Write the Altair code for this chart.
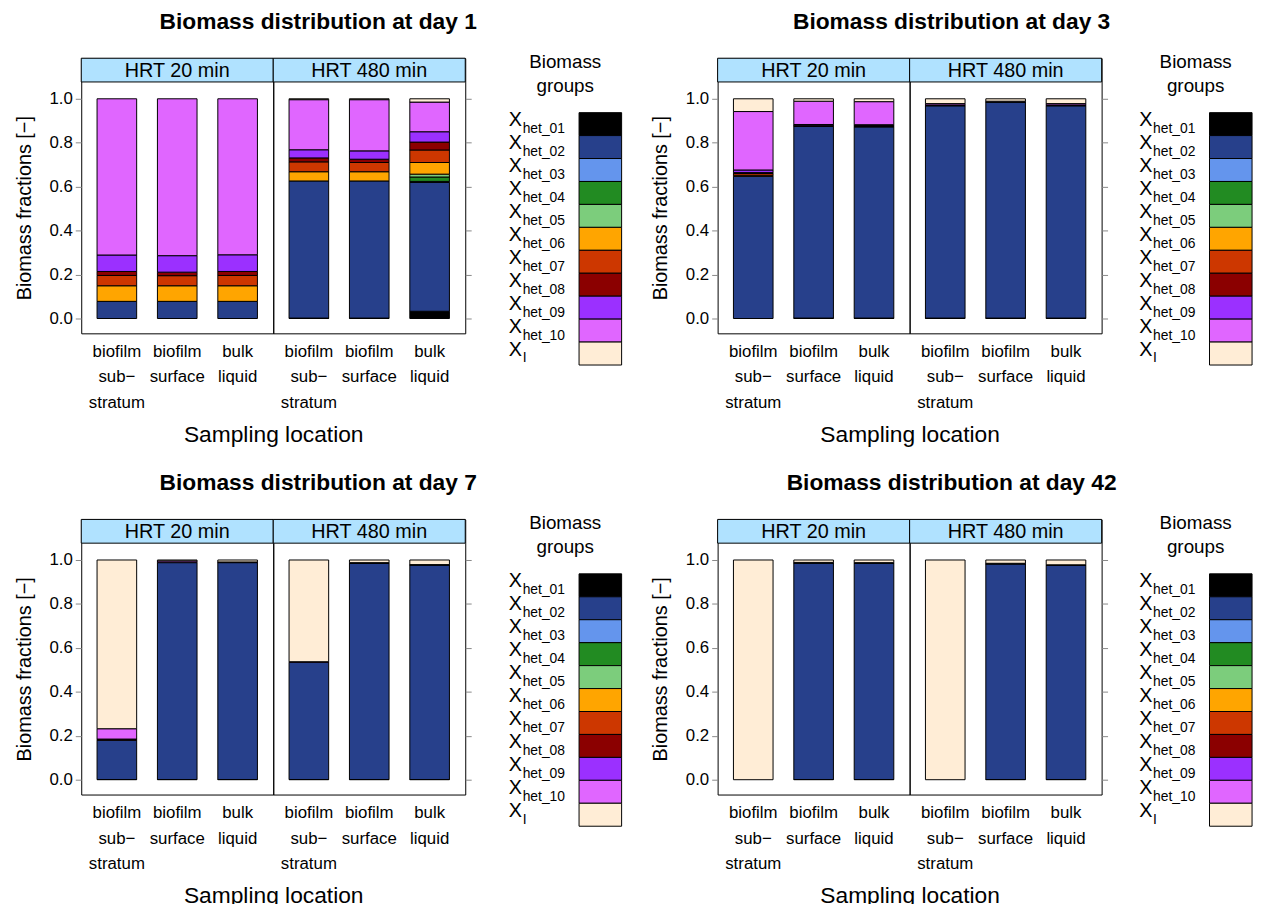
import altair as alt
import pandas as pd

FONT = "Liberation Sans"

GROUPS = ["het_01", "het_02", "het_03", "het_04", "het_05", "het_06",
          "het_07", "het_08", "het_09", "het_10", "I"]
GROUP_COLORS = ["#000000", "#27408B", "#6495ED", "#228B22", "#7CCD7C", "#FFA500",
                "#CD3700", "#8B0000", "#9B30FF", "#E066FF", "#FFEDD6"]
LOCATIONS = ["biofilm|sub\u2212|stratum", "biofilm|surface", "bulk|liquid"]
HRTS = ["HRT 20 min", "HRT 480 min"]
Y_TICKS = [0.0, 0.2, 0.4, 0.6, 0.8, 1.0]
LEGEND_TITLE = ["Biomass", "groups"]

# fractions per sampling location, order = GROUPS (het_01 ... het_10, X_I)
D1_20_SUB = [0, 0.078, 0, 0, 0, 0.071, 0.047, 0.018, 0.075, 0.711, 0]
D1_20_SUR = [0, 0.078, 0, 0, 0, 0.071, 0.046, 0.016, 0.075, 0.714, 0]
D1_20_BULK = [0, 0.078, 0, 0, 0, 0.071, 0.047, 0.018, 0.076, 0.710, 0]
D1_480_SUB = [0.002, 0.624, 0, 0, 0, 0.042, 0.045, 0.018, 0.037, 0.228, 0.004]
D1_480_SUR = [0.002, 0.624, 0, 0, 0, 0.042, 0.042, 0.015, 0.038, 0.233, 0.004]
D1_480_BULK = [0.033, 0.586, 0.005, 0.020, 0.013, 0.053, 0.057, 0.036, 0.047, 0.135, 0.015]

D3_20_SUB = [0, 0.647, 0, 0, 0, 0.005, 0.008, 0.004, 0.012, 0.266, 0.058]
D3_20_SUR = [0.002, 0.872, 0, 0, 0, 0.002, 0.002, 0.002, 0.003, 0.106, 0.011]
D3_20_BULK = [0.002, 0.870, 0, 0, 0, 0.002, 0.002, 0.002, 0.004, 0.105, 0.013]
D3_480_SUB = [0.002, 0.966, 0, 0, 0, 0, 0, 0.002, 0.002, 0.006, 0.022]
D3_480_SUR = [0.002, 0.983, 0, 0, 0, 0, 0, 0, 0.001, 0.003, 0.011]
D3_480_BULK = [0.002, 0.966, 0, 0, 0, 0, 0, 0.002, 0.002, 0.006, 0.022]

D7_20_SUB = [0.001, 0.179, 0, 0, 0, 0, 0, 0.002, 0.003, 0.047, 0.768]
D7_20_SUR = [0.001, 0.987, 0, 0, 0, 0, 0, 0, 0.002, 0.006, 0.004]
D7_20_BULK = [0.001, 0.987, 0, 0, 0, 0, 0, 0, 0.001, 0.002, 0.009]
D7_480_SUB = [0.001, 0.533, 0, 0, 0, 0, 0, 0, 0.001, 0.002, 0.463]
D7_480_SUR = [0.001, 0.984, 0, 0, 0, 0, 0, 0, 0.001, 0.002, 0.012]
D7_480_BULK = [0.001, 0.976, 0, 0, 0, 0, 0, 0, 0.001, 0.001, 0.021]

D42_20_SUB = [0, 0, 0, 0, 0, 0, 0, 0, 0, 0, 1.0]
D42_20_SUR = [0.001, 0.985, 0, 0, 0, 0, 0, 0, 0.001, 0.002, 0.011]
D42_20_BULK = [0.001, 0.985, 0, 0, 0, 0, 0, 0, 0.001, 0.001, 0.012]
D42_480_SUB = [0, 0, 0, 0, 0, 0, 0, 0, 0, 0, 1.0]
D42_480_SUR = [0.001, 0.981, 0, 0, 0, 0, 0, 0, 0.001, 0.002, 0.015]
D42_480_BULK = [0.001, 0.975, 0, 0, 0, 0, 0, 0, 0.001, 0.001, 0.022]

PANELS = [
    (1, [D1_20_SUB, D1_20_SUR, D1_20_BULK], [D1_480_SUB, D1_480_SUR, D1_480_BULK]),
    (3, [D3_20_SUB, D3_20_SUR, D3_20_BULK], [D3_480_SUB, D3_480_SUR, D3_480_BULK]),
    (7, [D7_20_SUB, D7_20_SUR, D7_20_BULK], [D7_480_SUB, D7_480_SUR, D7_480_BULK]),
    (42, [D42_20_SUB, D42_20_SUR, D42_20_BULK], [D42_480_SUB, D42_480_SUR, D42_480_BULK]),
]

# layout (pixels)
FW = 194          # width of one facet
FH = 278          # height incl. strip
STRIP = 24
Y_MIN = -15 / 222
Y_MAX = 1 + 41 / 222
STRIP_COLOR = "#B0E2FF"
LW = 118          # legend width
LH = 310          # legend height (incl. its title)

color_scale = alt.Scale(domain=GROUPS, range=GROUP_COLORS)


def fractions_frame(bars):
    rows = []
    for loc, vals in zip(LOCATIONS, bars):
        for i, (g, v) in enumerate(zip(GROUPS, vals)):
            if v > 0:
                rows.append({"location": loc, "group": g, "order": i, "value": v})
    return pd.DataFrame(rows)


def facet(hrt, bars, left):
    df = fractions_frame(bars)
    xkw = dict(labelExpr="split(datum.label, '|')", labelFontSize=17, labelLineHeight=26,
               labelPadding=10, tickSize=0, domain=False, labelAngle=0, labelBaseline="top")
    if left:
        xkw.update(title="Sampling location", titleFontSize=23, titleFontWeight="normal",
                   titleX=FW, titleAlign="center", titlePadding=13)
        ykw = dict(values=Y_TICKS, format=".1f", orient="left", tickSize=6, labelFontSize=17,
                   labelPadding=3, domain=False, grid=False, title="Biomass fractions  [\u2212]",
                   titleFontSize=20, titleFontWeight="normal", titlePadding=15, titleY=151)
    else:
        xkw.update(title="")
        ykw = dict(values=Y_TICKS, orient="right", tickSize=6, labels=False, domain=False,
                   grid=False, title="")
    bars_ch = alt.Chart(df).mark_bar(stroke="black", strokeWidth=1).encode(
        x=alt.X("location:N", sort=LOCATIONS,
                scale=alt.Scale(domain=LOCATIONS, paddingInner=0.344, paddingOuter=0.262),
                axis=alt.Axis(**xkw)),
        y=alt.Y("value:Q", stack="zero",
                scale=alt.Scale(domain=[Y_MIN, Y_MAX], nice=False, zero=False),
                axis=alt.Axis(**ykw)),
        color=alt.Color("group:N", scale=color_scale, legend=None),
        order=alt.Order("order:Q", sort="ascending"),
    )
    sdf = pd.DataFrame({"label": [hrt]})
    strip_rect = alt.Chart(sdf).mark_rect(fill=STRIP_COLOR, stroke="black", strokeWidth=1).encode(
        x=alt.value(0), x2=alt.value(FW), y=alt.value(0), y2=alt.value(STRIP))
    strip_text = alt.Chart(sdf).mark_text(fontSize=20, baseline="middle", align="center").encode(
        x=alt.value(FW / 2), y=alt.value(STRIP / 2 + 1), text="label:N")
    return alt.layer(bars_ch, strip_rect, strip_text).properties(width=FW, height=FH)


def legend_chart():
    ldf = pd.DataFrame({"group": GROUPS, "main": ["X"] * len(GROUPS), "sub": GROUPS})
    base = alt.Chart(ldf).encode(
        y=alt.Y("group:N", sort=GROUPS, axis=None,
                scale=alt.Scale(domain=GROUPS, range=[55, 310], paddingInner=0, paddingOuter=0)))
    rect = base.mark_rect(stroke="black", strokeWidth=1).encode(
        x=alt.value(75), x2=alt.value(LW),
        color=alt.Color("group:N", scale=color_scale, legend=None))
    main = base.mark_text(align="left", baseline="alphabetic", fontSize=20, dy=2).encode(
        x=alt.value(4), text="main:N")
    sub = base.mark_text(align="left", baseline="alphabetic", fontSize=14, dy=9).encode(
        x=alt.value(18), text="sub:N")
    t1 = alt.Chart(pd.DataFrame({"t": [LEGEND_TITLE[0]]})).mark_text(
        fontSize=19, align="center", baseline="alphabetic").encode(
        x=alt.value(LW / 2 + 2), y=alt.value(10), text="t:N")
    t2 = alt.Chart(pd.DataFrame({"t": [LEGEND_TITLE[1]]})).mark_text(
        fontSize=19, align="center", baseline="alphabetic").encode(
        x=alt.value(LW / 2 + 2), y=alt.value(34), text="t:N")
    return alt.layer(rect, main, sub, t1, t2).properties(
        width=LW, height=LH, view=alt.ViewBackground(stroke="transparent"))


def panel(day, b20, b480, leg_space):
    row = alt.hconcat(facet(HRTS[0], b20, True), facet(HRTS[1], b480, False),
                      spacing=0, bounds="flush")
    return alt.hconcat(row, legend_chart(), spacing=leg_space).properties(
        title=alt.TitleParams(f"Biomass distribution at day {day}", fontSize=23,
                              fontWeight="bold", anchor="middle", offset=19))


p = [panel(*x, s) for x, s in zip(PANELS, [32, 26, 32, 26])]
chart = alt.vconcat(
    alt.hconcat(p[0], p[1], spacing=27),
    alt.hconcat(p[2], p[3], spacing=27),
    spacing=25,
).properties(
    padding={"left": 5, "right": 5, "top": -2, "bottom": 5}
).configure(font=FONT).configure_view(stroke="black", strokeWidth=1)

chart.save("out.html", embed_options={"renderer": "svg", "actions": False})
